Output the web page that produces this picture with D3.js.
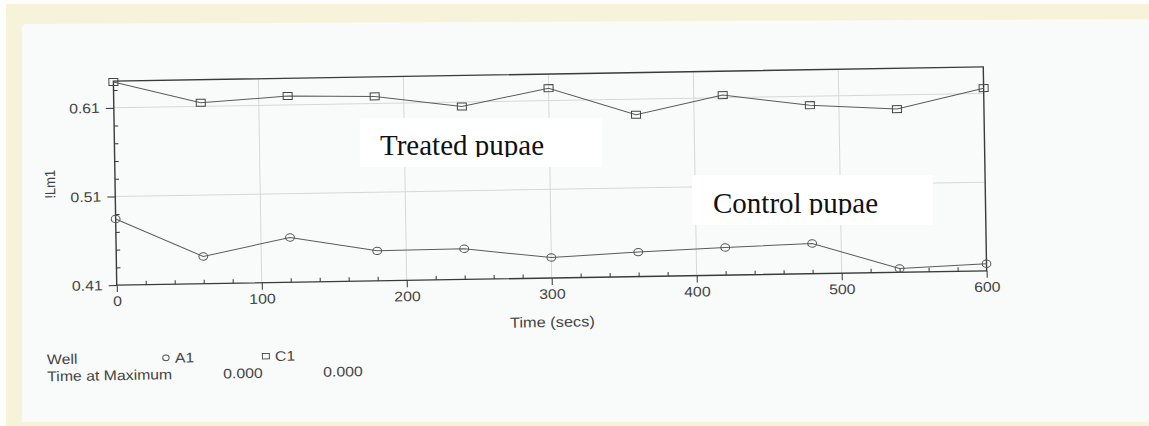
<!DOCTYPE html>
<meta charset="utf-8">
<script src="https://d3js.org/d3.v7.min.js"></script>
<style>
body { margin: 0; background: #fdfdf9; overflow: hidden; }
svg { display: block; }
text { font-family: "Liberation Sans", Arial, sans-serif; fill: #444; }
.axis path, .axis line { stroke: #333; }
.grid line { stroke: #d6d8d6; stroke-width: 1; }
.overlay text { font-family: "Liberation Serif", "Times New Roman", serif; fill: #111; }
</style>
<body>
<script>

// data
var times = [0, 60, 120, 180, 240, 300, 360, 420, 480, 540, 600];
var treatedC1 = [0.639, 0.614, 0.620, 0.618, 0.605, 0.624, 0.5925, 0.613, 0.600, 0.594, 0.616];
var controlA1 = [0.4845, 0.4407, 0.4605, 0.4438, 0.4445, 0.4331, 0.4376, 0.4411, 0.444, 0.4143, 0.418];
var yMajor = [0.41, 0.51, 0.61];
var yMinor = [0.43, 0.45, 0.47, 0.49, 0.53, 0.55, 0.57, 0.59, 0.63];
var xMajor = [0, 100, 200, 300, 400, 500, 600];
var xGrid = [100, 200, 300, 400, 500];
var wells = ["A1", "C1"];
var timeAtMax = ["0.000", "0.000"];

var width = 1149, height = 426;
var SX = 1.13; // scan is a bit wider than tall

var svg = d3.select("body").append("svg")
    .attr("width", width)
    .attr("height", height);

// paper / scanner background
svg.append("rect").attr("x", 6).attr("y", 4).attr("width", width + 10).attr("height", height)
    .attr("fill", "#f7f3da");
svg.append("path")
    .attr("d", "M22,29 Q22,24 27,24 L1160,19 L1160,422 L22,422 Z")
    .attr("fill", "#f9fbfa");

var x = d3.scaleLinear().domain([0, 600]).range([115, 985]);
var y = d3.scaleLinear().domain([0.41, 0.64]).range([278, 74]);

// the printout sits slightly tilted on the scanner
var g = svg.append("g").attr("transform", "rotate(-0.94,550,176)");

function stretchText(sel) {
    sel.each(function() {
        var t = d3.select(this);
        var tx = +t.attr("x") || 0;
        t.attr("x", 0).attr("transform", "translate(" + tx + ",0) scale(" + SX + ",1)");
    });
}

function label(parent, px, py, str, anchor, size) {
    return parent.append("text")
        .attr("transform", "translate(" + px + "," + py + ") scale(" + SX + ",1)")
        .attr("text-anchor", anchor || "start")
        .style("font-size", (size || 14) + "px")
        .text(str);
}

// grid
g.append("g").attr("class", "grid")
    .selectAll("line.v").data(xGrid).enter().append("line")
    .attr("x1", d => x(d)).attr("x2", d => x(d))
    .attr("y1", y.range()[0]).attr("y2", y.range()[1]);
g.append("g").attr("class", "grid")
    .selectAll("line.h").data([0.51, 0.61]).enter().append("line")
    .attr("x1", x.range()[0]).attr("x2", x.range()[1])
    .attr("y1", d => y(d)).attr("y2", d => y(d));

// frame
g.append("rect")
    .attr("x", x.range()[0]).attr("y", y.range()[1])
    .attr("width", x.range()[1] - x.range()[0])
    .attr("height", y.range()[0] - y.range()[1])
    .attr("fill", "none").attr("stroke", "#3a3a3a").attr("stroke-width", 1.4);

// axes
var yAxis = g.append("g").attr("class", "axis")
    .attr("transform", "translate(" + x.range()[0] + ",0)")
    .call(d3.axisLeft(y).tickValues(yMajor).tickSize(8).tickPadding(6).tickFormat(d3.format(".2f")));
yAxis.select(".domain").remove();
yAxis.selectAll("text").style("font-size", "14px").style("font-family", null);
stretchText(yAxis.selectAll(".tick text"));

var yMin = g.append("g").attr("class", "axis")
    .attr("transform", "translate(" + x.range()[0] + ",0)")
    .call(d3.axisRight(y).tickValues(yMinor).tickSize(4).tickFormat(""));
yMin.select(".domain").remove();

var xAxis = g.append("g").attr("class", "axis")
    .attr("transform", "translate(0," + y.range()[0] + ")")
    .call(d3.axisBottom(x).tickValues(xMajor).tickSize(7).tickPadding(4));
xAxis.select(".domain").remove();
xAxis.selectAll("text").style("font-size", "14px").style("font-family", null);
stretchText(xAxis.selectAll(".tick text"));

var xMin = g.append("g").attr("class", "axis")
    .attr("transform", "translate(0," + y.range()[0] + ")")
    .call(d3.axisTop(x).tickValues(d3.range(20, 600, 20).filter(d => d % 100 != 0)).tickSize(4).tickFormat(""));
xMin.select(".domain").remove();

// axis titles
label(g, 550, 327, "Time (secs)", "middle", 14.5);
g.append("text")
    .attr("transform", "translate(55,176) rotate(-90) scale(1," + SX + ")")
    .attr("text-anchor", "middle")
    .style("font-size", "13px")
    .text("!Lm1");

// series
var line = d3.line().x(d => x(d[0])).y(d => y(d[1]));
var treatedPts = times.map((t, i) => [t, treatedC1[i]]);
var controlPts = times.map((t, i) => [t, controlA1[i]]);

g.append("path").datum(treatedPts).attr("d", line)
    .attr("fill", "none").attr("stroke", "#5a5a5a").attr("stroke-width", 1);
g.append("path").datum(controlPts).attr("d", line)
    .attr("fill", "none").attr("stroke", "#5a5a5a").attr("stroke-width", 1);

g.selectAll("rect.sq").data(treatedPts).enter().append("rect")
    .attr("class", "sq")
    .attr("x", d => x(d[0]) - 4.5).attr("y", d => y(d[1]) - 3.5)
    .attr("width", 9).attr("height", 7)
    .attr("fill", "none").attr("stroke", "#444").attr("stroke-width", 1);
g.selectAll("ellipse.ci").data(controlPts).enter().append("ellipse")
    .attr("class", "ci")
    .attr("cx", d => x(d[0])).attr("cy", d => y(d[1]))
    .attr("rx", 4.4).attr("ry", 3.7)
    .attr("fill", "none").attr("stroke", "#555").attr("stroke-width", 1);

// well legend under the plot
label(g, 44, 356, "Well");
label(g, 44, 373, "Time at Maximum");
var legX = [163, 263];
g.append("ellipse").attr("cx", legX[0]).attr("cy", 351.5).attr("rx", 3.2).attr("ry", 2.8)
    .attr("fill", "none").attr("stroke", "#555");
g.append("rect").attr("x", legX[1] - 3.5).attr("y", 348.8).attr("width", 7).attr("height", 5.4)
    .attr("fill", "none").attr("stroke", "#555");
wells.forEach((w, i) => label(g, legX[i] + 9, 356.5, w));
timeAtMax.forEach((v, i) => label(g, legX[i] + 57, 373, v));

// pasted-on labels (not tilted)
var ov = svg.append("g").attr("class", "overlay");
var boxes = [
    { x: 360, y: 118, w: 242, h: 49, tx: 380, base: 155, text: "Treated pupae" },
    { x: 692, y: 175, w: 241, h: 50, tx: 713, base: 213, text: "Control pupae" }
];
boxes.forEach((b, i) => {
    ov.append("rect").attr("x", b.x).attr("y", b.y).attr("width", b.w).attr("height", b.h)
        .attr("fill", "#ffffff");
    ov.append("clipPath").attr("id", "clip" + i)
        .append("rect").attr("x", b.x).attr("y", b.y).attr("width", b.w).attr("height", b.base + 2 - b.y);
    ov.append("text")
        .attr("x", b.tx).attr("y", b.base)
        .attr("clip-path", "url(#clip" + i + ")")
        .style("font-size", "29px")
        .text(b.text);
});

</script>
</body>
